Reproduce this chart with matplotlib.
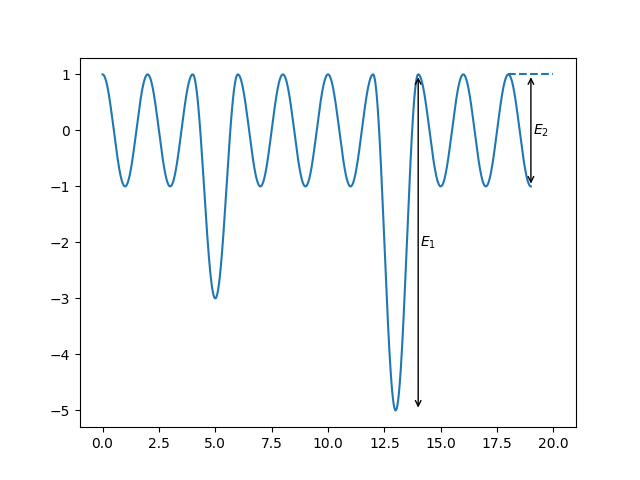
import numpy as np
import matplotlib.pyplot as plt

# troughs of the oscillation (one per period of length 2), peaks are all at 1
trough_x = [1, 3, 5, 7, 9, 11, 13, 15, 17, 19]
trough_y = [-1, -1, -3, -1, -1, -1, -5, -1, -1, -1]
peak_y = 1
x_end = 19

# dashed reference level
dash_x = [18, 20]
dash_y = [1, 1]

# energy arrows : (x, top, bottom, label)
fleches = [
	(14, 1, -5, r"$E_1$", -2),
	(19, 1, -1, r"$E_2$", 0),
]

x = np.linspace(0, x_end, 2000)
periode = np.minimum((x // 2).astype(int), len(trough_y) - 1)
profondeur = peak_y - np.array(trough_y)[periode]
y = peak_y + profondeur * (np.cos(np.pi * x) - 1) / 2

fig, ax = plt.subplots(figsize=(6.4, 4.8), dpi=100)
ax.plot(x, y, color="C0")
ax.plot(dash_x, dash_y, "--", color="C0")

for xf, haut, bas, nom, ytexte in fleches:
	ax.annotate("", xy=(xf, bas), xytext=(xf, haut),
		arrowprops=dict(arrowstyle="<->", color="black"))
	ax.text(xf + 0.1, ytexte, nom, va="center", ha="left")

plt.savefig("out.png")
